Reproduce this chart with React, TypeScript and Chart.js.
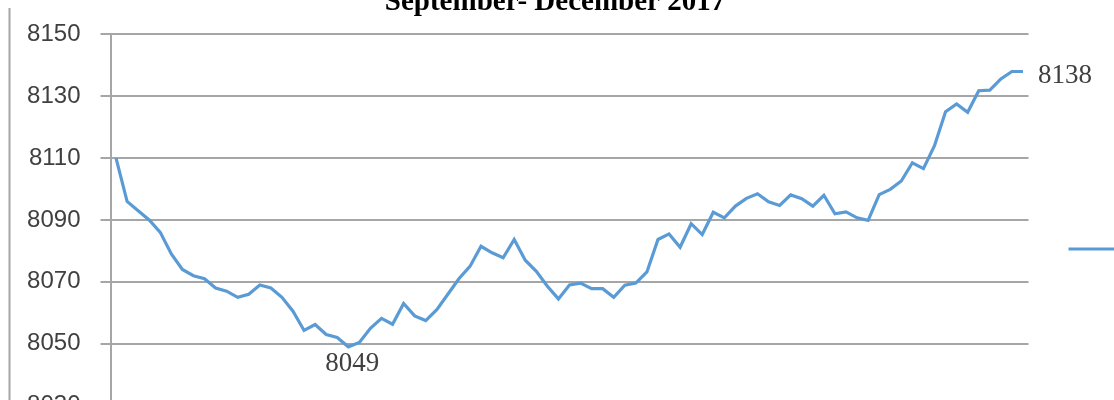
import React, { useEffect, useRef } from "react";
import { Chart, registerables } from "chart.js";

Chart.register(...registerables);

const TITLE = "September- December 2017";
const SERIES_NAME = "Index";

const VALUES: number[] = [
  8110, 8096, 8093, 8090, 8086, 8079, 8074, 8072, 8071, 8068,
  8067, 8065, 8066, 8069, 8068, 8065, 8060.5, 8054.3, 8056.2, 8053,
  8052, 8049, 8050.4, 8055, 8058.2, 8056.3, 8063, 8059, 8057.5, 8061,
  8066, 8071, 8075, 8081.5, 8079.4, 8077.8, 8083.7, 8077, 8073.4, 8068.6,
  8064.5, 8069, 8069.6, 8067.8, 8067.8, 8065, 8068.9, 8069.6, 8073.2, 8083.7,
  8085.5, 8081.2, 8088.8, 8085.3, 8092.5, 8090.7, 8094.5, 8097, 8098.5, 8095.9,
  8094.7, 8098.1, 8096.9, 8094.5, 8098, 8092, 8092.6, 8090.7, 8089.9, 8098.2,
  8099.9, 8102.6, 8108.5, 8106.6, 8114, 8125, 8127.5, 8124.8, 8131.8, 8132,
  8135.6, 8138, 8138,
];

const LABELS: string[] = VALUES.map((_, i) => String(i + 1));

const Y_MIN = 8030;
const Y_MAX = 8150;
const Y_STEP = 20;

const LABELLED_POINTS: { index: number; text: string; place: "below" | "right" }[] = [
  { index: 21, text: "8049", place: "below" },
  { index: 82, text: "8138", place: "right" },
];

const LINE_COLOR = "#5b9bd5";
const GRID_COLOR = "#a6a6a6";

export default function App() {
  const ref = useRef<HTMLCanvasElement | null>(null);

  useEffect(() => {
    if (!ref.current) return;
    const overlay = {
      id: "overlay",
      afterDraw(chart: any) {
        const ctx = chart.ctx as CanvasRenderingContext2D;
        const xs = chart.scales.x;
        const ys = chart.scales.y;
        const area = chart.chartArea;
        ctx.save();
        // outer frame left edge
        ctx.strokeStyle = GRID_COLOR;
        ctx.lineWidth = 2;
        ctx.beginPath();
        ctx.moveTo(9.5, 8);
        ctx.lineTo(9.5, chart.height);
        ctx.stroke();
        // title
        ctx.fillStyle = "#000";
        ctx.font = 'bold 29px "Liberation Serif", "Times New Roman", serif';
        ctx.textAlign = "center";
        ctx.textBaseline = "alphabetic";
        ctx.fillText(TITLE, 555, 10);
        // data labels
        ctx.font = '27px "Liberation Serif", "Times New Roman", serif';
        ctx.fillStyle = "#404040";
        for (const p of LABELLED_POINTS) {
          const x = xs.getPixelForValue(p.index);
          const y = ys.getPixelForValue(VALUES[p.index]);
          if (p.place === "below") {
            ctx.textAlign = "center";
            ctx.textBaseline = "top";
            ctx.fillText(p.text, x + 4, y + 4);
          } else {
            ctx.textAlign = "left";
            ctx.textBaseline = "middle";
            ctx.fillText(p.text, x + 15, y + 4);
          }
        }
        // legend sample (label text falls beyond the visible area)
        const ly = (area.top + area.bottom) / 2 + 29;
        ctx.strokeStyle = LINE_COLOR;
        ctx.lineWidth = 3;
        ctx.beginPath();
        ctx.moveTo(area.right + 40, ly);
        ctx.lineTo(area.right + 90, ly);
        ctx.stroke();
        ctx.fillStyle = "#404040";
        ctx.font = '24px "Liberation Sans", Arial, sans-serif';
        ctx.textAlign = "left";
        ctx.textBaseline = "middle";
        ctx.fillText(SERIES_NAME, area.right + 96, ly);
        ctx.restore();
      },
    };

    const chart = new Chart(ref.current, {
      type: "line",
      data: {
        labels: LABELS,
        datasets: [
          {
            label: SERIES_NAME,
            data: VALUES,
            borderColor: LINE_COLOR,
            backgroundColor: LINE_COLOR,
            borderWidth: 3.2,
            pointRadius: 0,
            tension: 0,
          },
        ],
      },
      options: {
        responsive: false,
        animation: false,
        devicePixelRatio: 1,
        layout: { padding: { top: 34, bottom: 26, left: 0, right: 85.5 } },
        plugins: {
          legend: { display: false },
          title: { display: false },
          tooltip: { enabled: false },
        },
        scales: {
          x: {
            display: false,
            offset: true,
            grid: { display: false },
          },
          y: {
            min: Y_MIN,
            max: Y_MAX,
            afterFit(scale: any) {
              scale.width = 110.5;
            },
            ticks: {
              stepSize: Y_STEP,
              padding: 20,
              color: "#404040",
              font: { family: '"Liberation Sans", Arial, sans-serif', size: 24 },
              callback: (v: any) => String(v),
            },
            grid: {
              color: GRID_COLOR,
              lineWidth: 2,
              drawTicks: true,
              tickLength: 10,
            },
            border: { display: true, color: GRID_COLOR, width: 2 },
          },
        },
      },
      plugins: [overlay],
    });
    return () => chart.destroy();
  }, []);

  return (
    <div
      style={{
        position: "absolute",
        left: 0,
        top: 0,
        width: 1114,
        height: 400,
        overflow: "hidden",
        background: "#fff",
      }}
    >
      <canvas ref={ref} width={1114} height={440} style={{ display: "block" }} />
    </div>
  );
}
